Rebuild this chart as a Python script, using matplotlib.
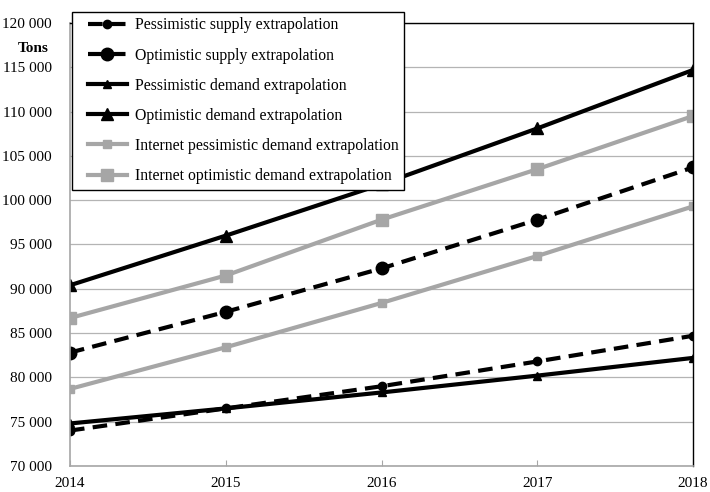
import matplotlib
matplotlib.use("Agg")
import matplotlib.pyplot as plt
from matplotlib.ticker import FuncFormatter
from matplotlib.legend_handler import HandlerLine2D
from matplotlib.lines import Line2D

plt.rcParams['font.family'] = ['Liberation Serif', 'DejaVu Serif']

# Data (tons)
years = [2014, 2015, 2016, 2017, 2018]
pess_supply = [74000, 76500, 79000, 81800, 84700]
opt_supply = [82800, 87400, 92300, 97800, 103700]
pess_demand = [74800, 76500, 78300, 80200, 82200]
opt_demand = [90400, 96000, 101800, 108100, 114700]
inet_pess_demand = [78700, 83400, 88400, 93700, 99300]
inet_opt_demand = [86700, 91500, 97800, 103500, 109500]

labels = ["Pessimistic supply extrapolation",
          "Optimistic supply extrapolation",
          "Pessimistic demand extrapolation",
          "Optimistic demand extrapolation",
          "Internet pessimistic demand extrapolation",
          "Internet optimistic demand extrapolation"]

grey = "#a6a6a6"
dash = (0, (3.5, 2))

fig = plt.figure(figsize=(7.1, 4.92), dpi=100)
ax = fig.add_axes([70/710, 26/492, 623/710, 443/492])

ax.plot(years, pess_supply, color="black", lw=3, ls=dash, marker="o", ms=6, label=labels[0])
ax.plot(years, opt_supply, color="black", lw=3, ls=dash, marker="o", ms=9, label=labels[1])
ax.plot(years, pess_demand, color="black", lw=3, marker="^", ms=6, label=labels[2])
ax.plot(years, opt_demand, color="black", lw=3, marker="^", ms=9, label=labels[3])
ax.plot(years, inet_pess_demand, color=grey, lw=3, marker="s", ms=6, label=labels[4])
ax.plot(years, inet_opt_demand, color=grey, lw=3, marker="s", ms=8.5, label=labels[5])

ax.set_xlim(2014, 2018)
ax.set_ylim(70000, 120000)
ax.set_xticks(years)
ax.set_yticks(range(70000, 120001, 5000))
ax.yaxis.set_major_formatter(FuncFormatter(lambda v, p: "{:,.0f}".format(v).replace(",", " ")))
ax.tick_params(axis="x", direction="in", length=4, color=grey, labelsize=11, pad=8)
ax.tick_params(axis="y", length=0, labelsize=11, pad=13)
ax.grid(axis="y", color="#b4b4b4", lw=0.9)
ax.set_axisbelow(True)
for s in ["left", "bottom"]:
    ax.spines[s].set_color(grey)
    ax.spines[s].set_linewidth(1.2)
for s in ["top", "right"]:
    ax.spines[s].set_color("black")
    ax.spines[s].set_linewidth(1)
for lbl in ax.get_xticklabels() + ax.get_yticklabels():
    lbl.set_clip_on(False)

fig.text(33/710, 1 - 48/492, "Tons", fontsize=11, fontweight="bold", ha="center", va="center")

hmap = {Line2D: HandlerLine2D(xpad=0.65)}
leg = ax.legend(loc="upper left", bbox_to_anchor=(0.003, 1.025), borderaxespad=0,
                fontsize=11.3, frameon=True, fancybox=False, handlelength=3.15,
                handletextpad=0.5, labelspacing=0.9, borderpad=0.35, framealpha=1,
                handler_map=hmap)
leg.get_frame().set_edgecolor("black")
leg.get_frame().set_linewidth(1)

fig.savefig("out.png", dpi=100)
